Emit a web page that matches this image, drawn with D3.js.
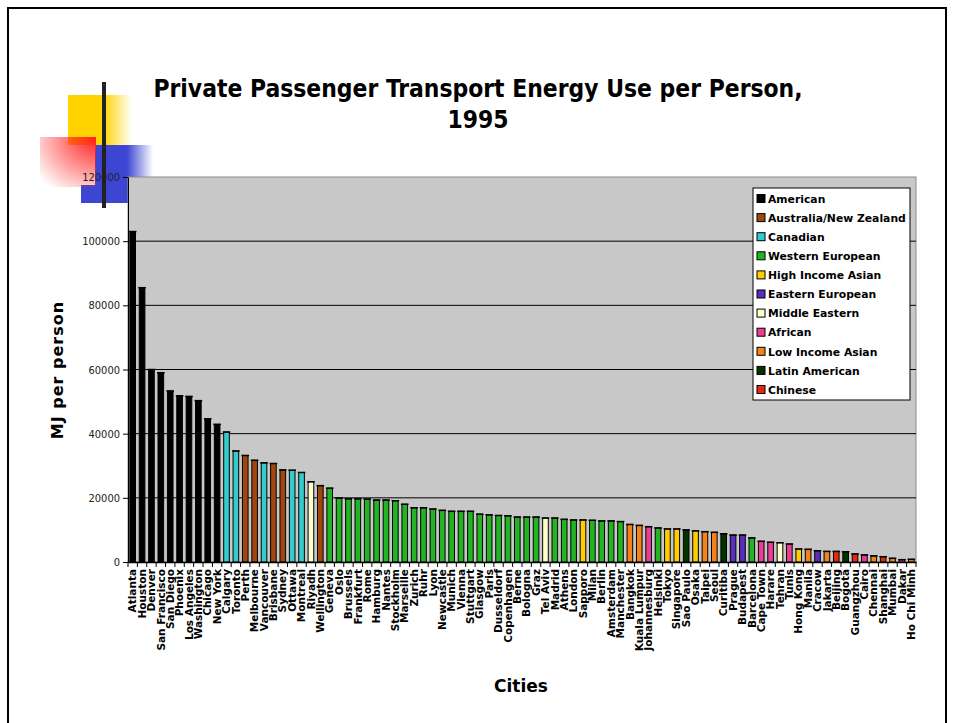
<!DOCTYPE html>
<html>
<head>
<meta charset="utf-8">
<script src="https://cdn.jsdelivr.net/npm/d3@7"></script>
<style>
body { margin: 0; background: #fff; }
svg text { font-family: "DejaVu Sans", Verdana, sans-serif; }
</style>
</head>
<body>
<div id="chart"></div>
<script>
// data
var cities = ["Atlanta","Houston","Denver","San Francisco","San Diego","Phoenix","Los Angeles","Washington","Chicago","New York",
  "Calgary","Toronto","Perth","Melbourne","Vancouver","Brisbane","Sydney","Ottawa","Montreal","Riyadh",
  "Wellington","Geneva","Oslo","Brussels","Frankfurt","Rome","Hamburg","Nantes","Stockholm","Marseille",
  "Zurich","Ruhr","Lyon","Newcastle","Munich","Vienna","Stuttgart","Glasgow","Paris","Dusseldorf",
  "Copenhagen","Berne","Bologna","Graz","Tel Aviv","Madrid","Athens","London","Sapporo","Milan",
  "Berlin","Amsterdam","Manchester","Bangkok","Kuala Lumpur","Johannesburg","Helsinki","Tokyo","Singapore","Sao Paulo",
  "Osaka","Taipei","Seoul","Curitiba","Prague","Budapest","Barcelona","Cape Town","Harare","Tehran",
  "Tunis","Hong Kong","Manila","Cracow","Jakarta","Beijing","Bogota","Guangzhou","Cairo","Chennai",
  "Shanghai","Mumbai","Dakar","Ho Chi Minh"];

var energy = [103000,85500,60000,59000,53300,51800,51600,50300,44600,42900,
  40500,34600,33200,31700,30900,30700,28700,28600,27900,25000,
  23800,23000,19900,19700,19700,19600,19300,19300,19100,18000,
  16900,16900,16500,16100,15800,15800,15800,14900,14700,14500,
  14400,14000,14000,14000,13700,13700,13300,13100,13100,13000,
  12800,12800,12600,11700,11400,11000,10600,10300,10300,10000,
  9700,9450,9250,8800,8400,8400,7500,6450,6150,6000,
  5600,4050,3950,3500,3300,3300,3200,2500,2200,1900,
  1650,1150,720,840];

var groups = ["American","Australia/New Zealand","Canadian","Western European","High Income Asian",
  "Eastern European","Middle Eastern","African","Low Income Asian","Latin American","Chinese"];

var groupColors = ["#000000","#a0460f","#33cccc","#22b422","#ffcc00",
  "#5b2dbe","#ffffcc","#ec3d95","#f58216","#003300","#e8280a"];

// index into groups for each city
var cityGroup = [0,0,0,0,0,0,0,0,0,0,
  2,2,1,1,2,1,1,2,2,6,
  1,3,3,3,3,3,3,3,3,3,
  3,3,3,3,3,3,3,3,3,3,
  3,3,3,3,6,3,3,3,4,3,
  3,3,3,8,8,7,3,4,4,9,
  4,8,8,9,5,5,3,7,7,6,
  7,4,8,5,8,10,9,10,7,8,
  10,8,7,8];

var yTicks = [0,20000,40000,60000,80000,100000,120000];

var W = 954, H = 723;
var plot = {left: 128, right: 916, top: 177, bottom: 562};

var svg = d3.select("#chart").append("svg")
    .attr("width", W)
    .attr("height", H);

// slide frame
svg.append("rect")
    .attr("x", 8).attr("y", 8)
    .attr("width", 938).attr("height", 740)
    .attr("fill", "#fff")
    .attr("stroke", "#000")
    .attr("stroke-width", 2);

// slide decoration (top-left squares), under the chart
var defs = svg.append("defs");
function fadeGrad(id, col, stop) {
    var g = defs.append("linearGradient").attr("id", id)
        .attr("x1", 0).attr("y1", 0).attr("x2", 1).attr("y2", 0);
    g.append("stop").attr("offset", 0).attr("stop-color", col).attr("stop-opacity", 1);
    g.append("stop").attr("offset", stop).attr("stop-color", col).attr("stop-opacity", 1);
    g.append("stop").attr("offset", 1).attr("stop-color", col).attr("stop-opacity", 0);
}
fadeGrad("gYellow", "#ffd200", 0.55);
fadeGrad("gBlue", "#3c46d2", 0.55);
var red = defs.append("radialGradient").attr("id", "gRed")
    .attr("cx", 1).attr("cy", 0).attr("r", 1.3);
red.append("stop").attr("offset", 0).attr("stop-color", "#ff1e1e").attr("stop-opacity", 1);
red.append("stop").attr("offset", 1).attr("stop-color", "#ff1e1e").attr("stop-opacity", 0);

svg.append("rect").attr("x", 68).attr("y", 95).attr("width", 64).attr("height", 50).attr("fill", "url(#gYellow)");
svg.append("rect").attr("x", 95).attr("y", 145).attr("width", 58).attr("height", 40).attr("fill", "url(#gBlue)");
svg.append("rect").attr("x", 81).attr("y", 185).attr("width", 47).attr("height", 18).attr("fill", "#3c46d2");
svg.append("rect").attr("x", 40).attr("y", 137).attr("width", 56).attr("height", 50).attr("fill", "url(#gRed)");

var x = d3.scaleBand()
    .domain(cities)
    .range([plot.left, plot.right])
    .paddingInner(0.4)
    .paddingOuter(0.2);

var y = d3.scaleLinear()
    .domain([0, 120000])
    .range([plot.bottom, plot.top]);

var color = d3.scaleOrdinal().domain(groups).range(groupColors);

// plot background
svg.append("rect")
    .attr("x", plot.left).attr("y", plot.top)
    .attr("width", plot.right - plot.left)
    .attr("height", plot.bottom - plot.top)
    .attr("fill", "#c8c8c8")
    .attr("stroke", "#8c8c8c")
    .attr("stroke-width", 1);

// gridlines
svg.append("g").selectAll("line")
    .data(yTicks.filter(function(d){ return d > 0 && d < 120000; }))
    .enter().append("line")
    .attr("x1", plot.left).attr("x2", plot.right)
    .attr("y1", function(d){ return y(d); })
    .attr("y2", function(d){ return y(d); })
    .attr("stroke", "#000")
    .attr("stroke-width", 1);

// bars
var data = cities.map(function(c, i) {
    return {city: c, value: energy[i], group: groups[cityGroup[i]]};
});

var bars = svg.append("g");
bars.selectAll("rect")
    .data(data)
    .enter().append("rect")
    .attr("x", function(d){ return x(d.city); })
    .attr("y", function(d){ return y(d.value); })
    .attr("width", x.bandwidth())
    .attr("height", function(d){ return y(0) - y(d.value); })
    .attr("fill", function(d){ return color(d.group); })
    .attr("stroke", "#000")
    .attr("stroke-width", 1);

// little caps on top of each bar
bars.selectAll("line.cap")
    .data(data)
    .enter().append("line")
    .attr("class", "cap")
    .attr("x1", function(d){ return x(d.city) - 1; })
    .attr("x2", function(d){ return x(d.city) + x.bandwidth() + 1; })
    .attr("y1", function(d){ return y(d.value); })
    .attr("y2", function(d){ return y(d.value); })
    .attr("stroke", "#000")
    .attr("stroke-width", 1.5);

// y axis
var yAxis = svg.append("g")
    .attr("transform", "translate(" + plot.left + ",0)")
    .call(d3.axisLeft(y).tickValues(yTicks).tickSize(5).tickSizeOuter(0).tickFormat(d3.format("d")));
yAxis.select(".domain").attr("stroke", "#000");
yAxis.selectAll("text")
    .style("font-family", "'DejaVu Sans Condensed', 'DejaVu Sans', sans-serif")
    .style("font-size", "11px")
    .attr("fill", "#222")
    .attr("x", -8);

// x axis
var xAxis = svg.append("g")
    .attr("transform", "translate(0," + plot.bottom + ")")
    .call(d3.axisBottom(x).tickSize(0).tickSizeOuter(0));
xAxis.select(".domain").attr("stroke", "#000").attr("stroke-width", 1.5);
xAxis.selectAll("text")
    .style("font-family", "'DejaVu Sans', sans-serif")
    .style("font-size", "10.5px")
    .style("font-weight", "bold")
    .attr("fill", "#000")
    .attr("text-anchor", "end")
    .attr("transform", "rotate(-90)")
    .attr("x", -7)
    .attr("y", 0)
    .attr("dy", "0.35em");

// category separator ticks
svg.append("g").selectAll("line")
    .data(d3.range(cities.length + 1))
    .enter().append("line")
    .attr("x1", function(i){ return plot.left + i * (plot.right - plot.left) / cities.length; })
    .attr("x2", function(i){ return plot.left + i * (plot.right - plot.left) / cities.length; })
    .attr("y1", plot.bottom)
    .attr("y2", plot.bottom + 5)
    .attr("stroke", "#000");

// vertical bar of the decoration sits on top
svg.append("rect").attr("x", 102).attr("y", 82).attr("width", 4).attr("height", 126).attr("fill", "#222");

// titles
var title = svg.append("text")
    .attr("x", 478).attr("y", 97)
    .attr("text-anchor", "middle")
    .style("font-size", "24.4px")
    .style("font-weight", "bold")
    .style("font-family", "'DejaVu Sans Condensed', 'DejaVu Sans', sans-serif");
title.append("tspan").attr("x", 478).text("Private Passenger Transport Energy Use per Person,");
title.append("tspan").attr("x", 478).attr("dy", 31).text("1995");

svg.append("text")
    .attr("transform", "translate(63,370) rotate(-90)")
    .attr("text-anchor", "middle")
    .style("font-size", "16px")
    .style("font-weight", "bold")
    .style("letter-spacing", "1px")
    .text("MJ per person");

svg.append("text")
    .attr("x", 521).attr("y", 692)
    .attr("text-anchor", "middle")
    .style("font-size", "17px")
    .style("font-weight", "bold")
    .text("Cities");

// legend
var legend = svg.append("g").attr("transform", "translate(753,188)");
legend.append("rect")
    .attr("width", 157).attr("height", 212)
    .attr("fill", "#fff")
    .attr("stroke", "#000")
    .attr("stroke-width", 1);
var item = legend.selectAll("g.item")
    .data(groups)
    .enter().append("g")
    .attr("class", "item")
    .attr("transform", function(d, i){ return "translate(4," + (11 + i * 19.1) + ")"; });
item.append("rect")
    .attr("x", 0).attr("y", -4.5)
    .attr("width", 8).attr("height", 8)
    .attr("fill", function(d){ return color(d); })
    .attr("stroke", "#000");
item.append("text")
    .attr("x", 11).attr("dy", "0.35em")
    .style("font-size", "10.8px")
    .style("font-weight", "bold")
    .text(function(d){ return d; });
</script>
</body>
</html>
